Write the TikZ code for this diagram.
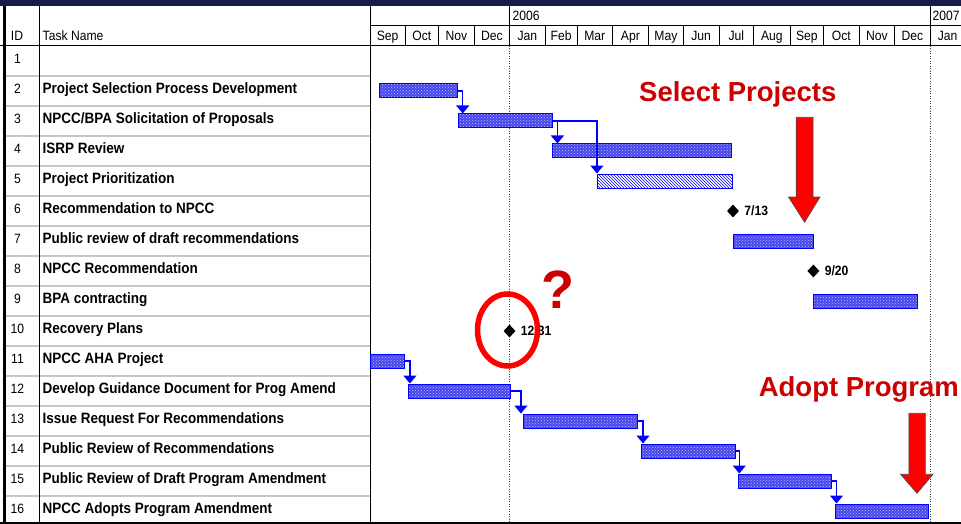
\documentclass[tikz,border=0pt]{standalone}
\usepackage{fontspec}
\setmainfont{Liberation Sans}[FakeStretch=0.9]
\newfontfamily\bigfont{Liberation Sans}
\usepackage{pgf,tikz}
\usetikzlibrary{arrows.meta}
\usetikzlibrary{patterns}
\usetikzlibrary{shapes.geometric}
\usetikzlibrary{positioning}
\definecolor{navy}{RGB}{26,26,72}
\definecolor{anno}{RGB}{204,0,0}
\definecolor{barblue}{RGB}{70,70,235}

\begin{document}
\begin{tikzpicture}[x=1pt,y=-1pt,
	grid/.style={black, line width=0.8pt},
	rowline/.style={black!22, line width=1.2pt},
	hdtxt/.style={inner sep=0pt, font=\fontsize{13.5}{15}\selectfont},
	idtxt/.style={hdtxt, anchor=base},
	tasktxt/.style={inner sep=0pt, anchor=base west, font=\fontsize{15}{17}\selectfont\bfseries},
	task/.style={draw=blue, line width=1pt, minimum height=14pt, inner sep=0pt, anchor=west},
	bar/.style={task, preaction={fill=barblue}, pattern=crosshatch dots, pattern color=white!65!barblue},
	hatch/.style={task, preaction={fill=white}, pattern=north west lines, pattern color=blue},
	link/.style={draw=blue, line width=1.2pt, -{Triangle[width=13pt,length=8pt]}},
	mile/.style={diamond, fill=black, inner sep=0pt, minimum width=12pt, minimum height=13pt},
	mtxt/.style={inner sep=0pt, font=\fontsize{13.5}{15}\selectfont\bfseries},
	yearline/.style={black!75, dash pattern=on 1pt off 1.5pt, line width=0.8pt},
	anno/.style={text=anno, inner sep=0pt, anchor=base west, font=\bigfont\fontsize{27.5}{30}\selectfont\bfseries},
	bigarr/.style={fill=red, draw=black!70, line width=0.7pt},
	ring/.style={draw=red, line width=5.5pt}]
	\useasboundingbox (0,0) rectangle (961,524);
	\fill[navy] (0,0) rectangle (961,6);
	\foreach \k in {1,...,15}
		\draw[rowline] (4,46+30*\k) -- (370,46+30*\k);
	\draw[black, line width=1pt] (0,46) -- (961,46);
	\draw[black, line width=1.2pt] (0,523) -- (961,523);
	\draw[black, line width=2.5pt] (4.5,6) -- (4.5,524);
	\draw[grid] (39.3,6) -- (39.3,523);
	\draw[grid] (370,6) -- (370,523);
	\draw[grid] (370,25) -- (961,25);
	\draw[grid] (509.5,6) -- (509.5,25);
	\draw[grid] (930.3,6) -- (930.3,25);
	\draw[yearline] (509.5,46) -- (509.5,523);
	\draw[yearline] (930.3,46) -- (930.3,523);

	\node[idtxt] (idhd) at (17,41) {ID};
	\node[hdtxt, anchor=base west] (taskhd) at (42.5,41) {Task Name};
	\node[hdtxt, anchor=base west] (y2006) at (512.5,20.5) {2006};
	\node[hdtxt, anchor=base west] (y2007) at (932.5,20.5) {2007};
	\foreach \m/\a/\b [count=\k] in {Sep/370/405.2,Oct/405.2/438.6,Nov/438.6/474.2,Dec/474.2/509.5,Jan/509.5/545.1,Feb/545.1/577.3,Mar/577.3/612.2,Apr/612.2/648.6,May/648.6/683.1,Jun/683.1/719.1,Jul/719.1/753.6,Aug/753.6/790,Sep/790/823.8,Oct/823.8/859,Nov/859/894.7,Dec/894.7/930.3,Jan/930.3/965}{
		\draw[grid] (\b,25) -- (\b,46);
		\node[idtxt] (mon\k) at ({(\a+\b)/2},41) {\m};
	}

	\foreach \i/\t in {1/{},2/Project Selection Process Development,3/{NPCC/BPA Solicitation of Proposals},4/ISRP Review,5/Project Prioritization,6/Recommendation to NPCC,7/Public review of draft recommendations,8/NPCC Recommendation,9/BPA contracting,10/Recovery Plans,11/NPCC AHA Project,12/Develop Guidance Document for Prog Amend,13/Issue Request For Recommendations,14/Public Review of Recommendations,15/Public Review of Draft Program Amendment,16/NPCC Adopts Program Amendment}{
		\node[idtxt] (id\i) at (17.5,33.5+30*\i) {\i};
		\node[tasktxt] (task\i) at (42.5,33.5+30*\i) {\t};
	}

	\node[bar, minimum width=77.8pt] (b2) at (379.2,91) {};
	\node[bar, minimum width=93.9pt] (b3) at (457.7,121) {};
	\node[bar, minimum width=178.2pt] (b4) at (552.4,151) {};
	\node[hatch, minimum width=134.9pt] (b5) at (596.9,181) {};
	\node[bar, minimum width=80.4pt] (b7) at (733,241) {};
	\node[bar, minimum width=103.8pt] (b9) at (812.7,301) {};
	\node[bar, minimum width=34pt] (b11) at (370,361) {};
	\node[bar, minimum width=101.6pt] (b12) at (407.9,391) {};
	\node[bar, minimum width=114.2pt] (b13) at (522.9,421) {};
	\node[bar, minimum width=93.5pt] (b14) at (641,451) {};
	\node[bar, minimum width=92.4pt] (b15) at (738.3,481) {};
	\node[bar, minimum width=93.9pt] (b16) at (834.5,511) {};

	\draw[link] (b2.east) -| ([xshift=5pt]b3.north west);
	\draw[link] (b3.east) -| ([xshift=5pt]b4.north west);
	\draw[link] (b3.east) -| (b5.north west);
	\draw[link] (b11.east) -| ([xshift=2pt]b12.north west);
	\draw[link] (b12.east) -| ([xshift=-2pt]b13.north west);
	\draw[link] (b13.east) -| ([xshift=2pt]b14.north west);
	\draw[link] (b14.east) -| ([xshift=1pt]b15.north west);
	\draw[link] (b15.east) -| ([xshift=2pt]b16.north west);

	\node[mile] (m6) at (733,211) {};
	\node[mtxt, right=5pt of m6] (d6) {7/13};
	\node[mile] (m8) at (813.4,271) {};
	\node[mtxt, right=5pt of m8] (d8) {9/20};
	\node[mile] (m10) at (509.5,331) {};
	\node[mtxt, right=5pt of m10] (d10) {12/31};
	\draw[ring] ([xshift=-2pt,yshift=1pt]m10.center) ellipse (30pt and 36pt);

	\node[anno] (sel) at (639,101.7) {Select Projects};
	\node[anno] (adopt) at (758.6,396) {Adopt Program};
	\node[anno, anchor=base, font=\bigfont\fontsize{54}{56}\selectfont\bfseries] (qm) at (558.4,308.3) {?};
	\filldraw[bigarr] (796.2,117.3) -- (813,117.3) -- (813,197) -- (820,197) -- (804.6,222.3) -- (788.5,197) -- (796.2,197) -- cycle;
	\filldraw[bigarr] (908.9,413.3) -- (925.3,413.3) -- (925.3,474.3) -- (933,474.3) -- (917,493.3) -- (900.6,474.3) -- (908.9,474.3) -- cycle;
\end{tikzpicture}
\end{document}
